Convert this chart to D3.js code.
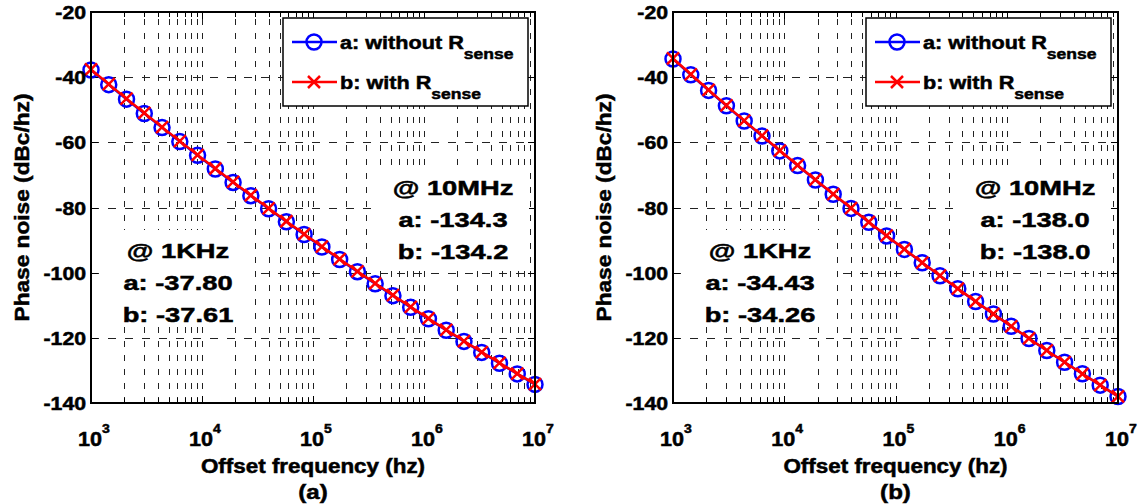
<!DOCTYPE html>
<html>
<head>
<meta charset="utf-8">
<script src="https://cdn.jsdelivr.net/npm/d3@7"></script>
<style>
    body { margin: 0; background: #fff; }
    svg { display: block; }
    text { font-family: "Liberation Sans", Arial, sans-serif; font-weight: bold; fill: #000; }
</style>
</head>
<body>
<svg id="chart"></svg>
<script>
// offset frequencies (hz), same for both panels
var freqs = [1000, 1445, 2089, 3020, 4365, 6310, 9120, 13183, 19055, 27542, 39811, 57544, 83176,
    120226, 173780, 251189, 363078, 524807, 758578, 1096478, 1584893, 2290868, 3311311, 4786301,
    6918310, 10000000];

// panel (a)
var noiseA1 = [-37.80, -42.30, -46.75, -51.14, -55.48, -59.77, -64.00, -68.18, -72.31, -76.38, -80.40,
    -84.37, -88.28, -92.14, -95.95, -99.70, -103.40, -107.05, -110.64, -114.18, -117.67, -121.10,
    -124.48, -127.81, -131.08, -134.30];
var noiseA2 = [-37.61, -42.14, -46.60, -50.99, -55.33, -59.63, -63.85, -68.03, -72.17, -76.24, -80.26,
    -84.22, -88.14, -92.00, -95.81, -99.57, -103.27, -106.92, -110.51, -114.05, -117.55, -120.98,
    -124.36, -127.70, -130.97, -134.20];

// panel (b)
var noiseB1 = [-34.43, -39.28, -44.07, -48.80, -53.47, -58.08, -62.63, -67.13, -71.57, -75.95, -80.27,
    -84.53, -88.73, -92.87, -96.95, -100.97, -104.93, -108.84, -112.69, -116.48, -120.21, -123.88,
    -127.49, -131.04, -134.53, -138.00];
var noiseB2 = [-34.26, -39.12, -43.92, -48.66, -53.34, -57.95, -62.51, -67.02, -71.47, -75.86, -80.18,
    -84.45, -88.66, -92.81, -96.90, -100.93, -104.90, -108.81, -112.67, -116.46, -120.20, -123.87,
    -127.48, -131.03, -134.52, -138.00];

var yTicks = [-20, -40, -60, -80, -100, -120, -140];
var xExponents = [3, 4, 5, 6, 7];
var legendNames = ["a: without R", "b: with R"];

var notesA = {low: ["@ 1KHz", "a: -37.80", "b: -37.61"], high: ["@ 10MHz", "a: -134.3", "b: -134.2"]};
var notesB = {low: ["@ 1KHz", "a: -34.43", "b: -34.26"], high: ["@ 10MHz", "a: -138.0", "b: -138.0"]};

var svg = d3.select("#chart")
    .attr("width", 1138)
    .attr("height", 504);

// the original figure is stretched sideways, so text gets a horizontal scale
var addText = function (target, str, x, y, size, anchor, sx) {
    return target.append("text")
        .attr("transform", "translate(" + x + "," + y + ") scale(" + (sx || 1.18) + ",1)")
        .attr("text-anchor", anchor || "middle")
        .style("font-size", size + "px")
        .style("stroke", "#000")
        .style("stroke-width", 0.5)
        .text(str);
}

var drawPanel = function (box, s1, s2, notes, letter) {
    var xScale = d3.scaleLog()
        .domain([1e3, 1e7])
        .range([box.left, box.right]);
    var yScale = d3.scaleLinear()
        .domain([-140, -20])
        .range([box.bottom, box.top]);

    var g = svg.append("g");

    // grid: all decades and sub-decades
    var minor = [];
    xExponents.forEach(function (e) {
        if (e == 7) return;
        for (var k = 1; k <= 9; k++) minor.push(k * Math.pow(10, e));
    });
    minor.push(1e7);

    g.append("g").selectAll("line")
        .data(minor.filter(function (f) { return f > 1e3 && f < 1e7; }))
        .enter()
        .append("line")
        .attr("x1", function (f) { return Math.round(xScale(f)) + 0.5; })
        .attr("x2", function (f) { return Math.round(xScale(f)) + 0.5; })
        .attr("y1", box.bottom)
        .attr("y2", box.top)
        .attr("stroke", "#222")
        .attr("stroke-width", 1)
        .attr("stroke-dasharray", "6,8");

    g.append("g").selectAll("line")
        .data(yTicks.filter(function (v) { return v > -140 && v < -20; }))
        .enter()
        .append("line")
        .attr("x1", box.left)
        .attr("x2", box.right)
        .attr("y1", function (v) { return Math.round(yScale(v)) + 0.5; })
        .attr("y2", function (v) { return Math.round(yScale(v)) + 0.5; })
        .attr("stroke", "#222")
        .attr("stroke-width", 1)
        .attr("stroke-dasharray", "8,9");

    // inward ticks on top and bottom
    var tickLen = function (f) {
        return Math.abs(Math.log10(f) - Math.round(Math.log10(f))) < 1e-6 ? 7 : 5;
    }
    g.append("g").selectAll("path")
        .data(minor)
        .enter()
        .append("path")
        .attr("d", function (f) {
            var x = Math.round(xScale(f)) + 0.5;
            return "M" + x + "," + box.bottom + "v" + (-tickLen(f)) +
                "M" + x + "," + box.top + "v" + tickLen(f);
        })
        .attr("stroke", "#000")
        .attr("stroke-width", 1);

    g.append("g").selectAll("path")
        .data(yTicks)
        .enter()
        .append("path")
        .attr("d", function (v) {
            var y = Math.round(yScale(v)) + 0.5;
            return "M" + box.left + "," + y + "h7M" + box.right + "," + y + "h-7";
        })
        .attr("stroke", "#000")
        .attr("stroke-width", 1);

    // white boxes behind the notes
    var drawNote = function (lines, cx, cy) {
        g.append("rect")
            .attr("x", cx - 76)
            .attr("y", cy - 28)
            .attr("width", 152)
            .attr("height", 96)
            .attr("fill", "#fff");
        lines.forEach(function (t, i) {
            addText(g, t, cx, cy + i * 32, 21, "middle", 1.3);
        })
    }
    drawNote(notes.low, box.left + 87, box.top + 246);
    drawNote(notes.high, box.left + 362, box.top + 183);

    // data
    var line = d3.line()
        .x(function (d, i) { return xScale(freqs[i]); })
        .y(function (d) { return yScale(d); });

    g.append("path")
        .datum(s1)
        .attr("d", line)
        .attr("fill", "none")
        .attr("stroke", "#0000ff")
        .attr("stroke-width", 2.5);

    g.append("g").selectAll("circle")
        .data(s1)
        .enter()
        .append("circle")
        .attr("cx", function (d, i) { return xScale(freqs[i]); })
        .attr("cy", function (d) { return yScale(d); })
        .attr("r", 7.5)
        .attr("fill", "none")
        .attr("stroke", "#0000ff")
        .attr("stroke-width", 2.5);

    g.append("path")
        .datum(s2)
        .attr("d", line)
        .attr("fill", "none")
        .attr("stroke", "#ff0000")
        .attr("stroke-width", 2.5);

    g.append("g").selectAll("path")
        .data(s2)
        .enter()
        .append("path")
        .attr("d", function (d, i) {
            var x = xScale(freqs[i]), y = yScale(d), r = 6;
            return "M" + (x - r) + "," + (y - r) + "L" + (x + r) + "," + (y + r) +
                "M" + (x - r) + "," + (y + r) + "L" + (x + r) + "," + (y - r);
        })
        .attr("stroke", "#ff0000")
        .attr("stroke-width", 2.5);

    // frame
    g.append("rect")
        .attr("x", box.left)
        .attr("y", box.top)
        .attr("width", box.right - box.left)
        .attr("height", box.bottom - box.top)
        .attr("fill", "none")
        .attr("stroke", "#000")
        .attr("stroke-width", 2);

    // legend
    var lg = g.append("g")
        .attr("transform", "translate(" + (box.right - 252) + "," + (box.top + 6) + ")");
    lg.append("rect")
        .attr("width", 245)
        .attr("height", 88)
        .attr("fill", "#fff")
        .attr("stroke", "#000")
        .attr("stroke-width", 1.5);
    legendNames.forEach(function (name, i) {
        var y = 24 + i * 40;
        var color = i == 0 ? "#0000ff" : "#ff0000";
        lg.append("line")
            .attr("x1", 9).attr("x2", 54)
            .attr("y1", y).attr("y2", y)
            .attr("stroke", color)
            .attr("stroke-width", 2.5);
        if (i == 0) {
            lg.append("circle")
                .attr("cx", 31).attr("cy", y).attr("r", 7.5)
                .attr("fill", "none").attr("stroke", color).attr("stroke-width", 2.5);
        } else {
            lg.append("path")
                .attr("d", "M25," + (y - 6) + "l12,12M25," + (y + 6) + "l12,-12")
                .attr("stroke", color).attr("stroke-width", 2.5);
        }
        var t = addText(lg, name, 57, y + 7, 18.5, "start", 1.17);
        t.append("tspan")
            .attr("dy", 10)
            .style("font-size", "15px")
            .text("sense");
    })

    // y tick labels
    yTicks.forEach(function (v) {
        addText(svg, v, box.left - 5, yScale(v) + 7, 18, "end", 1.18);
    })

    // x tick labels 10^n
    xExponents.forEach(function (e) {
        var t = addText(svg, "", xScale(Math.pow(10, e)) + 3, box.bottom + 43, 20, "middle", 1.08);
        t.append("tspan").text("10");
        t.append("tspan")
            .attr("dy", -13)
            .style("font-size", "13px")
            .text(e);
    })

    var mid = (box.left + box.right) / 2;
    addText(svg, "Offset frequency (hz)", mid, box.bottom + 70, 19.5, "middle", 1.15);
    addText(svg, "(" + letter + ")", mid, box.bottom + 96, 21, "middle", 1.15);

    svg.append("text")
        .attr("transform", "translate(" + (box.left - 62) + "," + ((box.top + box.bottom) / 2) +
            ") rotate(-90) scale(1.08,1)")
        .attr("text-anchor", "middle")
        .style("font-size", "21px")
        .style("stroke", "#000")
        .style("stroke-width", 0.5)
        .text("Phase noise (dBc/hz)");
}

drawPanel({left: 91, right: 535, top: 12, bottom: 403}, noiseA1, noiseA2, notesA, "a");
drawPanel({left: 673, right: 1118, top: 12, bottom: 403}, noiseB1, noiseB2, notesB, "b");
</script>
</body>
</html>
